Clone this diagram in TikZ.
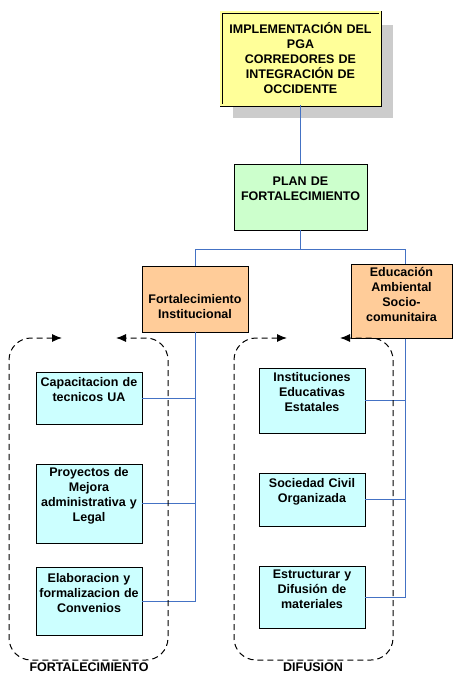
\documentclass[tikz,border=0pt]{standalone}
\usepackage{fontspec}
\setmainfont{Liberation Sans}
\usetikzlibrary{arrows.meta}
\definecolor{linkblue}{RGB}{68,114,196}
\definecolor{boxyellow}{RGB}{255,255,153}
\definecolor{boxgreen}{RGB}{204,255,204}
\definecolor{boxorange}{RGB}{255,204,153}
\definecolor{boxcyan}{RGB}{204,255,255}
\newcommand\liftspace[1]{\endgraf\vspace*{#1}}
\begin{document}
\begin{tikzpicture}[x=1pt,y=-1pt,
  every node/.style={font=\bfseries\fontsize{12.5}{15}\selectfont, align=center, inner sep=2pt},
  boxbase/.style={draw=black, line width=0.9pt, minimum width=#1, text width=#1-6pt},
  lift/.style={execute at end node={\liftspace{#1}}},
  leafbox/.style={boxbase=106pt, fill=boxcyan, lift=16pt},
  link/.style={draw=linkblue, line width=1pt},
  groupline/.style={draw=black, line width=1pt, dash pattern=on 6pt off 4pt, rounded corners=22pt, {Latex[length=10pt,width=8pt]}-{Latex[length=10pt,width=8pt]}},
  grouplabel/.style={inner sep=0pt}
]
\useasboundingbox (0,0) rectangle (453,673);

% shadow of title box
\fill[gray!40] (233,25) rectangle (393,118);

\node[boxbase=159pt, minimum height=93pt, fill=boxyellow, double=boxyellow, draw=black, double distance=1.6pt, line width=0.7pt] (top) at (300.5,58.5)
  {IMPLEMENTACIÓN DEL\\PGA\\CORREDORES DE\\INTEGRACIÓN DE\\OCCIDENTE};

\node[boxbase=133pt, minimum height=66pt, fill=boxgreen, lift=16pt] (plan) at (300.5,197)
  {PLAN DE\\FORTALECIMIENTO};

\node[boxbase=106pt, minimum height=66pt, fill=boxorange, text depth=-7pt] (fi) at (195,299)
  {Fortalecimiento\\Institucional};

\node[boxbase=101pt, minimum height=71pt, fill=boxorange, lift=15pt] (ea) at (401.5,301.5)
  {Educación\\Ambiental\\Socio-\\comunitaira};

% left leaves
\node[leafbox, minimum height=52pt] (b1) at (89,398) {Capacitacion de\\tecnicos UA};
\node[leafbox, minimum height=79pt] (b2) at (89,503.5) {Proyectos de\\Mejora\\administrativa y\\Legal};
\node[leafbox, minimum height=68pt] (b3) at (89,601) {Elaboracion y\\formalizacion de\\Convenios};

% right leaves
\node[leafbox, minimum height=65pt] (r1) at (312,400.5) {Instituciones\\Educativas\\Estatales};
\node[leafbox, minimum height=53pt] (r2) at (312,499.5) {Sociedad Civil\\Organizada};
\node[leafbox, minimum height=62pt] (r3) at (312,597) {Estructurar y\\Difusión de\\materiales};

% connectors
\draw[link] (top.south) -- (plan.north);
\coordinate (split) at (300.5,249);
\draw[link] (plan.south) -- (split);
\draw[link] (split) -| (fi.north);
\draw[link] (split) -| ([xshift=3.5pt]ea.north);

\draw[link] (fi.south) |- (b1.east);
\draw[link] (fi.south) |- (b2.east);
\draw[link] (fi.south) |- (b3.east);

\draw[link] ([xshift=3.5pt]ea.south) |- (r1.east);
\draw[link] ([xshift=3.5pt]ea.south) |- (r2.east);
\draw[link] ([xshift=3.5pt]ea.south) |- (r3.east);

% dashed groups
\draw[groupline] (62,338) -- (9,338) -- (9,660) -- (168,660) -- (168,338) -- (116,338);
\draw[groupline] (287,338) -- (234,338) -- (234,660) -- (393,660) -- (393,338) -- (340,338);

\node[grouplabel] (lblF) at (89,667) {FORTALECIMIENTO};
\node[grouplabel] (lblD) at (313,667) {DIFUSION};
\end{tikzpicture}
\end{document}
